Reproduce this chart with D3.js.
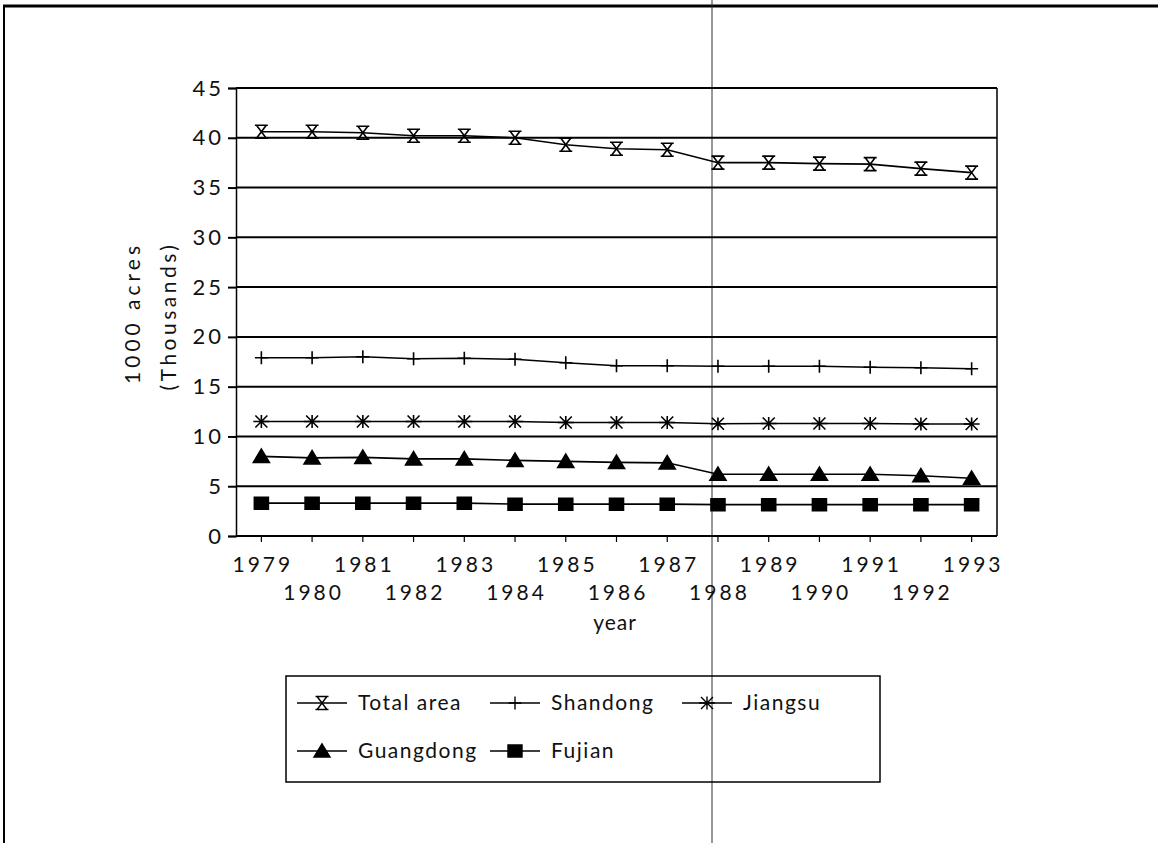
<!DOCTYPE html>
<html>
<head>
<meta charset="utf-8">
<script src="https://cdn.jsdelivr.net/npm/d3@7"></script>
<style>
  body { margin: 0; background: #fff; }
  svg { display: block; }
  text { font-family: Lato, "DejaVu Sans", sans-serif; fill: #111; }
</style>
</head>
<body>
<script>
// data (thousands of 1000 acres)
const years = ["1979","1980","1981","1982","1983","1984","1985","1986","1987","1988","1989","1990","1991","1992","1993"];
const totalArea = [40.6, 40.6, 40.5, 40.2, 40.2, 40.0, 39.3, 38.9, 38.8, 37.5, 37.5, 37.4, 37.35, 36.9, 36.5];
const shandong  = [17.9, 17.9, 18.0, 17.8, 17.85, 17.75, 17.4, 17.1, 17.1, 17.05, 17.05, 17.05, 16.95, 16.9, 16.8];
const jiangsu   = [11.5, 11.5, 11.5, 11.5, 11.5, 11.5, 11.4, 11.4, 11.4, 11.27, 11.3, 11.3, 11.3, 11.25, 11.25];
const guangdong = [8.0, 7.85, 7.9, 7.75, 7.75, 7.6, 7.5, 7.4, 7.35, 6.2, 6.2, 6.2, 6.2, 6.05, 5.8];
const fujian    = [3.3, 3.3, 3.3, 3.3, 3.3, 3.2, 3.2, 3.2, 3.2, 3.15, 3.15, 3.15, 3.15, 3.15, 3.15];
const seriesNames = ["Total area", "Shandong", "Jiangsu", "Guangdong", "Fujian"];
const yTicks = [0, 5, 10, 15, 20, 25, 30, 35, 40, 45];

const series = [totalArea, shandong, jiangsu, guangdong, fujian];

const width = 1158, height = 843;
const marginLeft = 236, marginRight = 161, marginTop = 88, marginBottom = 307;

const x = d3.scaleBand()
    .domain(years)
    .range([marginLeft, width - marginRight]);
const y = d3.scaleLinear()
    .domain([0, 45])
    .range([height - marginBottom, marginTop]);

const svg = d3.select("body").append("svg")
    .attr("width", width)
    .attr("height", height)
    .attr("viewBox", [0, 0, width, height]);

// scanned page edges
svg.append("line").attr("x1", 3).attr("x2", width).attr("y1", 6).attr("y2", 6)
    .attr("stroke", "#000").attr("stroke-width", 3);
svg.append("line").attr("x1", 4).attr("x2", 4).attr("y1", 6).attr("y2", height)
    .attr("stroke", "#000").attr("stroke-width", 2);
svg.append("line").attr("x1", 712).attr("x2", 712).attr("y1", 0).attr("y2", height)
    .attr("stroke", "#333").attr("stroke-width", 1);

// marker shapes
const hourglass = s => `M${-s},${-s}H${s}M${-s},${s}H${s}M${-s*0.75},${-s}L${s*0.75},${s}M${s*0.75},${-s}L${-s*0.75},${s}`;
const plus = s => `M${-s},0H${s}M0,${-s}V${s}`;
const asterisk = s => `M${-s},0H${s}M${-s*0.75},${-s*0.75}L${s*0.75},${s*0.75}M${s*0.75},${-s*0.75}L${-s*0.75},${s*0.75}M0,${-s*0.8}V${s*0.8}`;
const triangle = s => `M0,${-s*0.9}L${s},${s*0.75}H${-s}Z`;
const square = s => `M${-s},${-s*0.85}H${s}V${s*0.85}H${-s}Z`;
const markers = [
  {path: hourglass(6.5), fill: "none"},
  {path: plus(6.5), fill: "none"},
  {path: asterisk(8), fill: "none"},
  {path: triangle(8), fill: "#000"},
  {path: square(7), fill: "#000"}
];

// gridlines + y axis
svg.append("g")
    .attr("transform", `translate(${marginLeft},0)`)
    .call(d3.axisLeft(y).tickValues(yTicks).tickSize(8).tickPadding(4))
    .call(g => g.select(".domain").attr("stroke-width", 1.5))
    .call(g => g.selectAll(".tick line").attr("stroke-width", 2))
    .call(g => g.selectAll(".tick text")
        .attr("font-size", 22).attr("letter-spacing", 3)
        .attr("font-family", "Lato, 'DejaVu Sans', sans-serif"));

svg.append("g")
  .selectAll("line")
  .data(yTicks)
  .join("line")
    .attr("x1", marginLeft).attr("x2", width - marginRight)
    .attr("y1", d => y(d)).attr("y2", d => y(d))
    .attr("stroke", "#000").attr("stroke-width", 2);

// right frame
svg.append("line")
    .attr("x1", width - marginRight).attr("x2", width - marginRight)
    .attr("y1", y(45)).attr("y2", y(0))
    .attr("stroke", "#000").attr("stroke-width", 1.5);

// x axis ticks and staggered labels
const xAxis = svg.append("g")
    .attr("transform", `translate(0,${y(0)})`);
xAxis.selectAll("line")
  .data(years)
  .join("line")
    .attr("x1", d => x(d) + x.bandwidth() / 2).attr("x2", d => x(d) + x.bandwidth() / 2)
    .attr("y1", 0).attr("y2", 6)
    .attr("stroke", "#000").attr("stroke-width", 1.2);
xAxis.selectAll("text")
  .data(years)
  .join("text")
    .attr("x", d => x(d) + x.bandwidth() / 2 + 1.5)
    .attr("y", (d, i) => i % 2 === 0 ? 36 : 64)
    .attr("text-anchor", "middle")
    .attr("font-size", 21)
    .attr("letter-spacing", 3)
    .text(d => d);

svg.append("text")
    .attr("x", 615).attr("y", 630)
    .attr("text-anchor", "middle")
    .attr("font-size", 21)
    .attr("letter-spacing", 1)
    .text("year");

// y title
svg.append("text")
    .attr("transform", "translate(140,313) rotate(-90)")
    .attr("text-anchor", "middle")
    .attr("font-size", 21)
    .attr("letter-spacing", 4)
    .text("1000 acres");
svg.append("text")
    .attr("transform", "translate(176,316) rotate(-90)")
    .attr("text-anchor", "middle")
    .attr("font-size", 21)
    .attr("letter-spacing", 3.5)
    .text("(Thousands)");

// series lines + markers
const line = d3.line()
    .x((d, i) => x(years[i]) + x.bandwidth() / 2)
    .y(d => y(d));

series.forEach((values, k) => {
  svg.append("path")
      .datum(values)
      .attr("fill", "none")
      .attr("stroke", "#000")
      .attr("stroke-width", 1.6)
      .attr("d", line);
  svg.append("g")
    .selectAll("path")
    .data(values)
    .join("path")
      .attr("transform", (d, i) => `translate(${x(years[i]) + x.bandwidth() / 2},${y(d)})`)
      .attr("d", markers[k].path)
      .attr("fill", markers[k].fill)
      .attr("stroke", "#000")
      .attr("stroke-width", 1.6);
});

// legend
const legend = svg.append("g");
legend.append("rect")
    .attr("x", 286).attr("y", 676).attr("width", 594).attr("height", 106)
    .attr("fill", "none").attr("stroke", "#000").attr("stroke-width", 1.5);
const legendPos = [
  {x: 297, y: 703}, {x: 490, y: 703}, {x: 682, y: 703},
  {x: 297, y: 751}, {x: 490, y: 751}
];
seriesNames.forEach((name, k) => {
  const p = legendPos[k];
  const g = legend.append("g").attr("transform", `translate(${p.x},${p.y})`);
  g.append("line").attr("x1", 0).attr("x2", 50).attr("y1", 0).attr("y2", 0)
      .attr("stroke", "#000").attr("stroke-width", 1.4);
  g.append("path")
      .attr("transform", "translate(25,0)")
      .attr("d", markers[k].path)
      .attr("fill", markers[k].fill)
      .attr("stroke", "#000").attr("stroke-width", 1.4);
  g.append("text")
      .attr("x", 61).attr("y", 0).attr("dy", "0.35em")
      .attr("font-size", 21)
      .attr("letter-spacing", 1.5)
      .text(name);
});
</script>
</body>
</html>
